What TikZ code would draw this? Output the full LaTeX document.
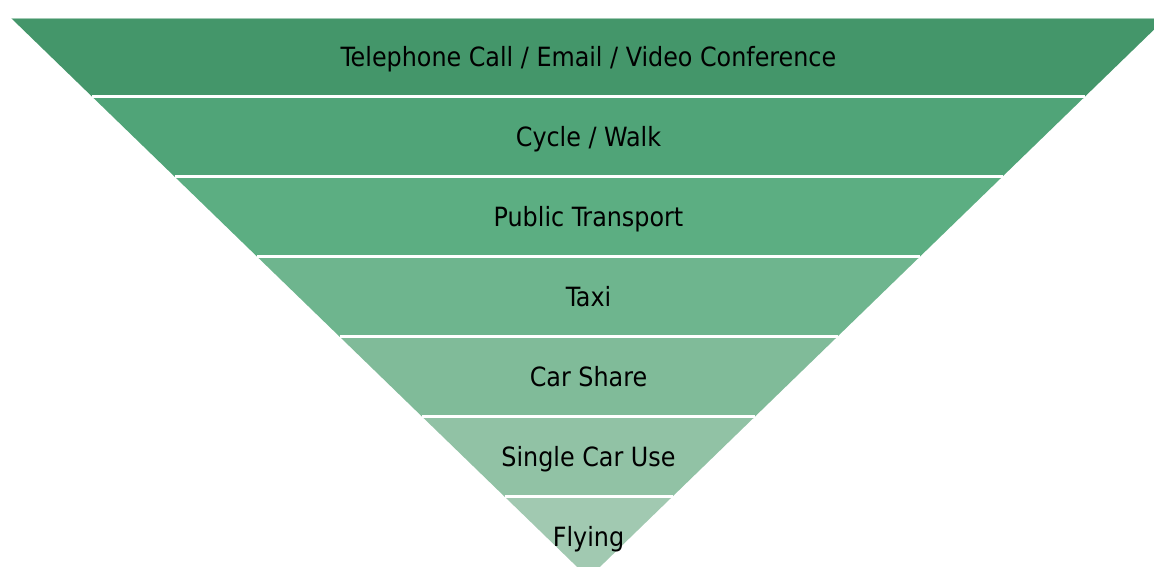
\documentclass[tikz,border=0pt]{standalone}
\usepackage{fontspec}
\setmainfont{DejaVu Sans Condensed}
\definecolor{c1}{RGB}{68,150,106}
\definecolor{c2}{RGB}{80,164,120}
\definecolor{c3}{RGB}{92,174,130}
\definecolor{c4}{RGB}{110,181,142}
\definecolor{c5}{RGB}{128,187,153}
\definecolor{c6}{RGB}{145,194,165}
\definecolor{c7}{RGB}{161,201,177}
\tikzset{
  sep/.style={draw=white, line width=3pt},
  lbl/.style={font=\fontsize{26.5}{31}\selectfont, text=black, inner sep=0pt, anchor=base}
}
\begin{document}
\begin{tikzpicture}[x=1pt,y=-1pt]
\useasboundingbox (0,0) rectangle (1154,566);
\clip (0,0) rectangle (1154,566);
\fill[c1] (11,18) -- (1166,18) -- (1083.5,98) -- (93.5,98) -- cycle;
\fill[c2] (93.5,98) -- (1083.5,98) -- (1001,178) -- (176,178) -- cycle;
\fill[c3] (176,178) -- (1001,178) -- (918.5,258) -- (258.5,258) -- cycle;
\fill[c4] (258.5,258) -- (918.5,258) -- (836,338) -- (341,338) -- cycle;
\fill[c5] (341,338) -- (836,338) -- (753.5,418) -- (423.5,418) -- cycle;
\fill[c6] (423.5,418) -- (753.5,418) -- (671,498) -- (506,498) -- cycle;
\fill[c7] (506,498) -- (671,498) -- (588.5,578) -- cycle;
\draw[white, opacity=0.5, line width=1pt] (11,18.5) -- (1166,18.5);
\foreach \y/\w in {96.5/496.5,176.5/414,256.5/331.5,336.5/249,416.5/166.5,496.5/84}
  \draw[sep] (588.5-\w,\y) -- (588.5+\w,\y);
\node[lbl] (t1) at (588.5,66) {Telephone Call / Email / Video Conference};
\node[lbl] (t2) at (588.5,146) {Cycle / Walk};
\node[lbl] (t3) at (588.5,226) {Public Transport};
\node[lbl] (t4) at (588.5,306) {Taxi};
\node[lbl] (t5) at (588.5,386) {Car Share};
\node[lbl] (t6) at (588.5,466) {Single Car Use};
\node[lbl] (t7) at (588.5,546) {Flying};
\end{tikzpicture}
\end{document}
